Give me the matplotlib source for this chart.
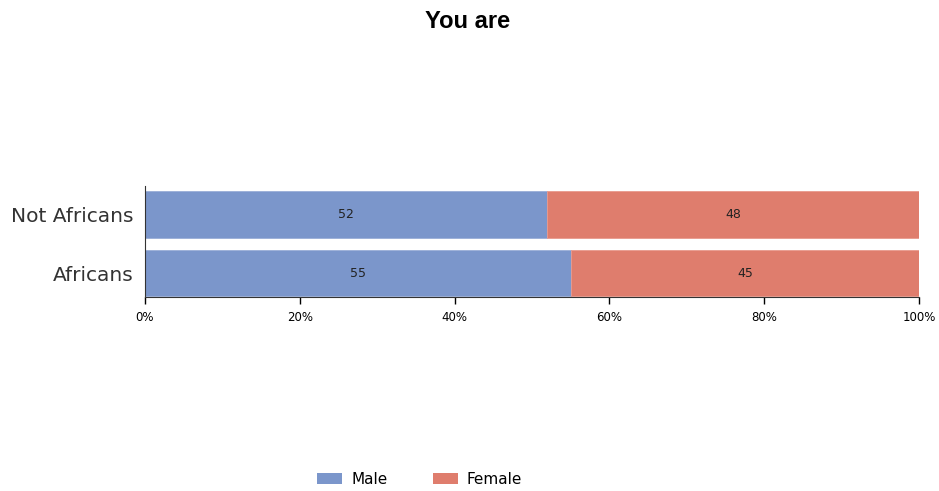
import numpy as np
import matplotlib.pyplot as plt
from matplotlib.patches import Patch

# data
categories = ['Africans', 'Not Africans']
male = [55, 52]
female = [45, 48]
ticks = [0, 20, 40, 60, 80, 100]

blue = '#7b96cb'
red = '#df7d6d'

fig = plt.figure(figsize=(9.39, 4.91), dpi=100)
ax = fig.add_axes([0.1544, 0.395, 0.8243, 0.226])

y = np.arange(len(categories))
ax.barh(y, male, height=0.8, color=blue, edgecolor='#9aaed8', linewidth=0.6)
ax.barh(y, female, left=male, height=0.8, color=red, edgecolor='#e99a8d', linewidth=0.6)

# value labels in the middle of each segment
for i in range(len(categories)):
    ax.text(male[i] / 2, y[i], str(male[i]), ha='center', va='center', fontsize=9, color='#222222')
    ax.text(male[i] + female[i] / 2, y[i], str(female[i]), ha='center', va='center', fontsize=9, color='#222222')

ax.set_xlim(0, 100)
ax.set_ylim(-0.41, 1.49)
ax.set_xticks(ticks)
ax.set_xticklabels([f'{t}%' for t in ticks], fontsize=8.5)
ax.set_yticks(y)
ax.set_yticklabels(categories, fontsize=14.5, color='#333333')
ax.tick_params(axis='y', length=0, pad=8)
ax.tick_params(axis='x', length=5, width=1, direction='out', pad=5)

for s in ['top', 'right']:
    ax.spines[s].set_visible(False)
ax.spines['left'].set_color('#333333')
ax.spines['bottom'].set_color('#333333')

fig.text(0.4975, 0.957, 'You are', ha='center', va='center', fontsize=17, fontweight='bold',
         family=['Liberation Sans Narrow', 'Liberation Sans', 'DejaVu Sans'])

handles = [Patch(facecolor=blue, label='Male'), Patch(facecolor=red, label='Female')]
fig.legend(handles=handles, loc='center', bbox_to_anchor=(0.447, 0.024), ncol=2, frameon=False,
           fontsize=11, handlelength=1.6, handleheight=0.8, columnspacing=3.0, handletextpad=0.6)

fig.savefig('out.png', dpi=100)
